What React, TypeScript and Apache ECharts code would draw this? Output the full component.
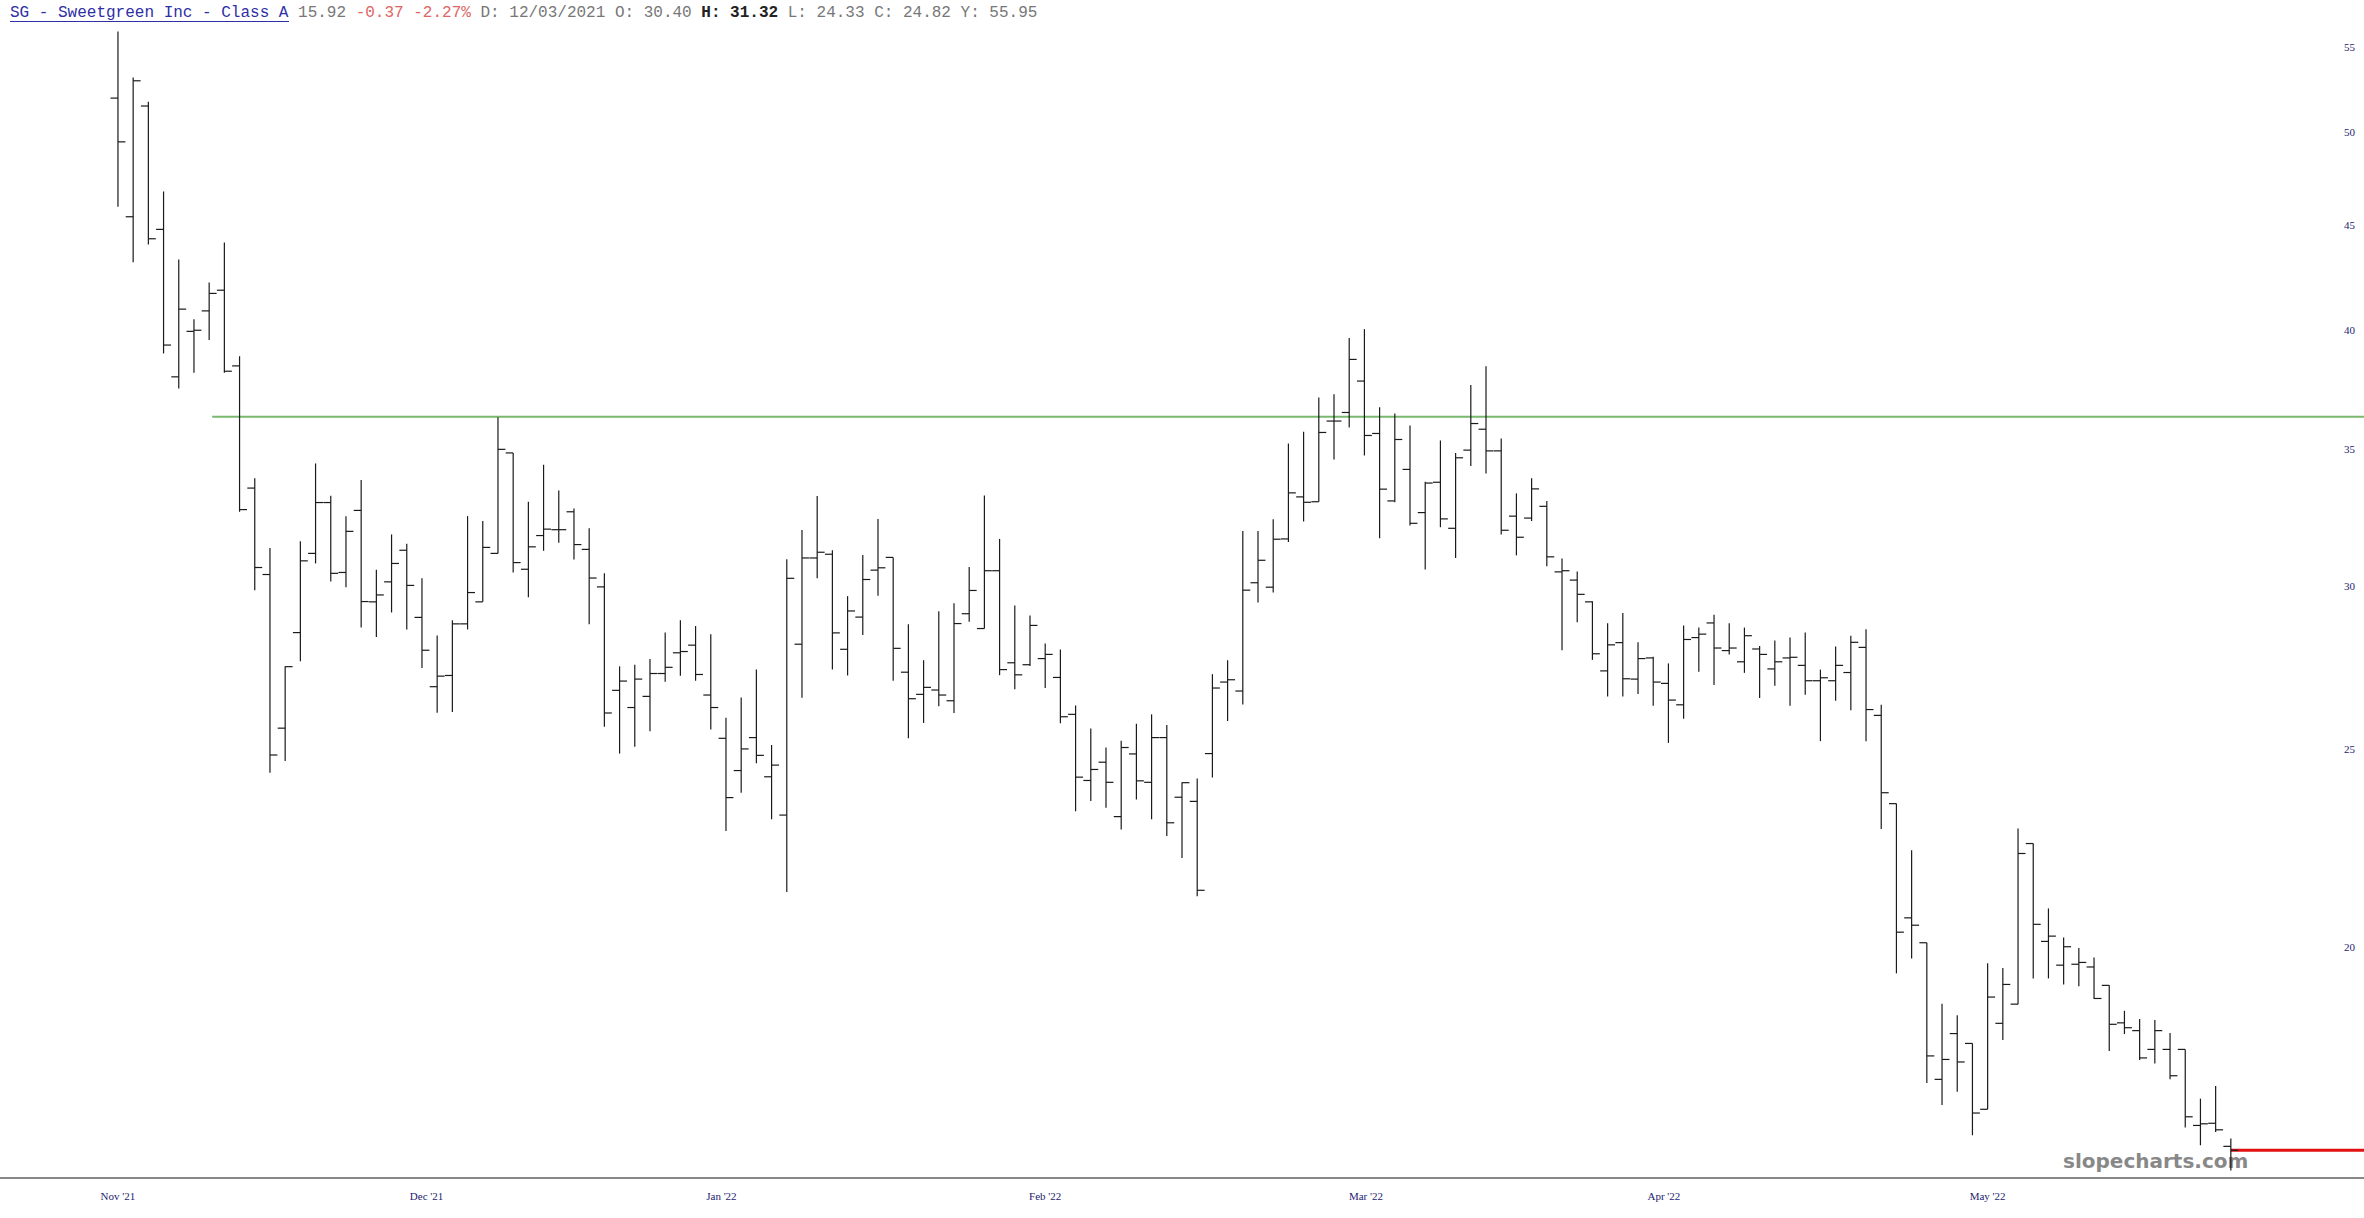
import React, { useEffect, useRef } from "react";
import * as echarts from "echarts";

// ---- categories: trading days (Nov 18 2021 .. Jun 9 2022) ----
const tradingMonths: [string, number[]][] = [
  ["2021-11", [18, 19, 22, 23, 24, 26, 29, 30]],
  ["2021-12", [1, 2, 3, 6, 7, 8, 9, 10, 13, 14, 15, 16, 17, 20, 21, 22, 23, 27, 28, 29, 30, 31]],
  ["2022-01", [3, 4, 5, 6, 7, 10, 11, 12, 13, 14, 18, 19, 20, 21, 24, 25, 26, 27, 28, 31]],
  ["2022-02", [1, 2, 3, 4, 7, 8, 9, 10, 11, 14, 15, 16, 17, 18, 22, 23, 24, 25, 28]],
  ["2022-03", [1, 2, 3, 4, 7, 8, 9, 10, 11, 14, 15, 16, 17, 18, 21, 22, 23, 24, 25, 28, 29, 30, 31]],
  ["2022-04", [1, 4, 5, 6, 7, 8, 11, 12, 13, 14, 18, 19, 20, 21, 22, 25, 26, 27, 28, 29]],
  ["2022-05", [2, 3, 4, 5, 6, 9, 10, 11, 12, 13, 16, 17, 18, 19, 20, 23, 24, 25, 26, 27, 31]],
  ["2022-06", [1, 2, 3, 6, 7, 8, 9]],
];
const dates: string[] = tradingMonths.flatMap(([m, days]) =>
  days.map((d) => `${m}-${String(d).padStart(2, "0")}`)
);

// ---- series values ----
const open = [
  51.92, 45.44, 51.46, 44.8, 37.96, 39.95, 40.88, 41.84, 38.43, 33.5,
  30.4, 25.58, 28.48, 31.13, 32.96, 30.47, 32.67, 29.48, 30.15, 31.24,
  28.97, 26.8, 27.14, 28.76, 29.48, 31.13, 34.85, 30.58, 31.76, 31.97,
  32.62, 31.27, 29.98, 26.69, 26.18, 26.51, 27.2, 27.84, 28.08, 26.55,
  25.29, 24.39, 25.31, 24.22, 23.2, 28.11, 30.97, 31.1, 27.95, 28.98,
  30.55, 30.99, 27.24, 26.57, 26.7, 26.38, 29.09, 28.61, 30.53, 27.53,
  27.47, 27.66, 27.08, 25.98, 24.12, 24.62, 23.16, 24.85, 24.07, 25.31,
  23.67, 23.56, 24.86, 26.94, 26.67, 30.12, 29.97, 31.64, 33.17, 32.99,
  36.12, 36.47, 37.78, 35.62, 33.02, 34.21, 32.59, 33.72, 32.02, 34.96,
  35.79, 34.93, 32.46, 32.39, 32.82, 30.49, 30.21, 29.48, 27.28, 28.16,
  27.03, 27.68, 26.9, 26.26, 28.32, 28.79, 27.91, 27.56, 27.96, 27.34,
  27.68, 27.45, 26.98, 26.98, 27.23, 28.01, 25.95, 23.5, 20.67, 20.1,
  17.24, 18.15, 17.95, 16.67, 18.36, 18.76, 22.47, 20.13, 19.6, 19.62,
  19.56, 19.16, 18.37, 18.21, 17.83, 17.83, 17.83, 16.37, 16.41, 15.99,
];
const high = [
  55.95, 53.14, 51.71, 46.75, 43.31, 40.5, 42.21, 44.15, 38.85, 33.87,
  31.32, 27.42, 31.56, 34.44, 33.21, 32.46, 33.81, 30.56, 31.8, 31.47,
  30.27, 28.39, 28.88, 32.46, 32.28, 36.28, 34.85, 32.99, 34.39, 33.41,
  32.74, 32.02, 30.44, 27.42, 27.47, 27.65, 28.48, 28.88, 28.69, 28.43,
  25.88, 26.48, 27.32, 25.1, 30.93, 31.96, 33.2, 31.24, 29.67, 31.07,
  32.36, 30.99, 28.75, 27.61, 29.17, 29.43, 30.66, 33.22, 31.64, 29.36,
  29.03, 28.13, 27.94, 26.24, 25.57, 25.03, 25.22, 25.71, 25.98, 25.67,
  24.07, 24.17, 27.18, 27.61, 31.92, 31.92, 32.35, 35.22, 35.69, 37.09,
  37.22, 39.65, 40.05, 36.68, 36.43, 35.94, 33.74, 35.34, 34.85, 37.61,
  38.41, 35.42, 33.3, 33.87, 33.02, 30.95, 30.5, 29.5, 28.78, 29.11,
  28.17, 27.72, 27.51, 28.71, 28.64, 29.06, 28.78, 28.64, 28.05, 28.23,
  28.32, 28.48, 27.32, 28.04, 28.38, 28.59, 26.26, 23.5, 22.3, 20.1,
  18.77, 18.53, 17.95, 19.64, 19.54, 22.85, 22.47, 20.89, 20.22, 19.98,
  19.77, 19.16, 18.62, 18.45, 18.43, 18.16, 17.83, 16.87, 17.11, 16.13,
];
const low = [
  45.95, 43.17, 44.05, 38.97, 37.47, 38.13, 39.56, 38.13, 32.62, 29.87,
  24.33, 24.65, 27.58, 30.78, 30.16, 29.97, 28.64, 28.34, 29.13, 28.58,
  27.37, 26.03, 26.05, 28.58, 29.48, 31.13, 30.47, 29.63, 31.22, 31.5,
  30.92, 28.75, 25.62, 24.86, 25.05, 25.49, 26.95, 27.13, 26.98, 25.54,
  22.79, 23.79, 24.59, 23.09, 21.28, 26.47, 30.27, 27.32, 27.14, 28.4,
  29.68, 26.98, 25.29, 25.73, 26.22, 26.02, 28.83, 28.61, 27.15, 26.72,
  27.43, 26.76, 25.72, 23.3, 23.57, 23.39, 22.83, 23.61, 23.09, 22.66,
  22.11, 21.18, 24.2, 25.79, 26.27, 29.46, 29.79, 31.53, 32.27, 32.99,
  34.59, 35.86, 34.75, 31.66, 32.97, 32.12, 30.57, 32.06, 30.97, 34.34,
  34.05, 31.8, 31.06, 32.28, 30.68, 27.92, 28.81, 27.62, 26.51, 26.51,
  26.58, 26.23, 25.16, 25.85, 27.25, 26.85, 27.79, 27.22, 26.46, 26.83,
  26.23, 26.56, 25.21, 26.38, 26.1, 25.21, 22.84, 19.42, 19.75, 17.17,
  16.75, 17.0, 16.19, 16.67, 18.02, 18.76, 19.31, 19.31, 19.18, 19.14,
  18.87, 17.8, 18.14, 17.62, 17.55, 17.24, 16.33, 16.01, 16.25, 15.56,
];
const close = [
  49.43, 52.94, 44.33, 39.34, 40.96, 40.0, 41.69, 38.2, 32.7, 30.64,
  24.82, 27.41, 30.87, 32.96, 30.44, 31.91, 29.49, 29.71, 30.78, 30.03,
  27.92, 27.12, 28.76, 29.79, 31.34, 34.99, 30.81, 31.36, 31.99, 31.97,
  31.44, 30.28, 26.02, 26.97, 27.03, 27.2, 27.39, 27.88, 27.17, 26.18,
  23.66, 24.99, 24.81, 24.54, 30.27, 30.97, 31.17, 28.47, 29.18, 30.23,
  30.63, 27.98, 26.44, 26.78, 26.55, 28.77, 29.86, 30.53, 27.32, 27.16,
  28.71, 27.79, 25.91, 24.21, 24.42, 24.07, 25.03, 24.11, 25.31, 23.0,
  24.06, 21.32, 26.76, 27.01, 29.87, 30.89, 31.63, 33.32, 32.97, 35.66,
  36.12, 38.71, 35.54, 33.46, 35.38, 32.2, 33.69, 32.36, 34.66, 36.02,
  34.93, 31.95, 31.7, 33.47, 31.01, 30.53, 29.73, 27.81, 28.09, 27.04,
  27.66, 26.94, 26.4, 28.26, 28.43, 27.99, 27.99, 28.38, 27.79, 27.56,
  27.7, 26.98, 27.07, 27.45, 28.17, 26.12, 23.79, 20.34, 20.5, 17.7,
  17.63, 17.58, 16.6, 18.91, 19.18, 22.22, 20.52, 20.25, 20.01, 19.66,
  18.88, 18.34, 18.27, 17.66, 18.21, 17.31, 16.53, 16.4, 16.29, 15.92,
];

// ---- tick labels ----
const xTickLabels = ["Nov '21", "Dec '21", "Jan '22", "Feb '22", "Mar '22", "Apr '22", "May '22"];
const xTickPositions = [0, 20.3, 39.7, 61, 82.1, 101.7, 123];
const yTickLabels = [20, 25, 30, 35, 40, 45, 50, 55];

// ---- reference levels ----
const resistanceLevel = 36.3;
const resistanceStartIndex = 6.2;
const lastPrice = 15.92;

// ---- header ----
const headerName = "SG - Sweetgreen Inc - Class A";
const headerLast = "15.92";
const headerChange = "-0.37 -2.27%";
const headerInfo1 = "D: 12/03/2021 O: 30.40";
const headerHigh = "H: 31.32";
const headerInfo2 = "L: 24.33 C: 24.82 Y: 55.95";

// ---- view extents (layout) ----
const X_MIN = -7.76;
const X_MAX = 147.76;
const Y_MIN = 15.44;
const Y_MAX = 57.97;

export default function App() {
  const ref = useRef<HTMLDivElement>(null);

  useEffect(() => {
    document.body.style.margin = "0";
    if (!ref.current) return;
    const chart = echarts.init(ref.current, undefined, { renderer: "svg" });

    const ohlcRows = dates.map((_, i) => [
      i,
      Math.log(open[i]),
      Math.log(high[i]),
      Math.log(low[i]),
      Math.log(close[i]),
    ]);
    const lastIndex = dates.length - 1;

    const option: any = {
      animation: false,
      backgroundColor: "#ffffff",
      title: {
        left: 10,
        top: 4,
        padding: 0,
        text:
          `{name|${headerName}} {last|${headerLast}} {chg|${headerChange}} ` +
          `{info|${headerInfo1}} {hi|${headerHigh}} {info|${headerInfo2}}`,
        textStyle: {
          fontFamily: "Liberation Mono",
          fontSize: 16,
          fontWeight: "normal",
          color: "#777777",
          rich: {
            name: { fontFamily: "Liberation Mono", fontSize: 16, color: "#2f2fa6", lineHeight: 18 },
            last: { fontFamily: "Liberation Mono", fontSize: 16, color: "#777777", lineHeight: 18 },
            chg: { fontFamily: "Liberation Mono", fontSize: 16, color: "#e06666", lineHeight: 18 },
            info: { fontFamily: "Liberation Mono", fontSize: 16, color: "#777777", lineHeight: 18 },
            hi: { fontFamily: "Liberation Mono", fontSize: 16, color: "#222222", fontWeight: "bold", lineHeight: 18 },
          },
        },
      },
      grid: { left: 0, right: 0, top: 0, bottom: 40.5 },
      xAxis: {
        type: "value",
        min: X_MIN,
        max: X_MAX,
        axisLine: { show: true, lineStyle: { color: "#888888", width: 2 } },
        axisTick: { show: false },
        splitLine: { show: false },
        axisLabel: {
          customValues: xTickPositions,
          formatter: (v: number) => {
            const k = xTickPositions.findIndex((p) => Math.abs(p - v) < 1e-6);
            return k >= 0 ? xTickLabels[k] : "";
          },
          margin: 13,
          color: "#1c1c6e",
          fontFamily: "Liberation Serif",
          fontSize: 11,
        },
      },
      yAxis: {
        type: "value",
        position: "right",
        min: Math.log(Y_MIN),
        max: Math.log(Y_MAX),
        axisLine: { show: false },
        axisTick: { show: false },
        splitLine: { show: false },
        axisLabel: {
          inside: true,
          margin: 9,
          customValues: yTickLabels.map((v) => Math.log(v)),
          formatter: (v: number) => String(Math.round(Math.exp(v))),
          color: "#1c1c6e",
          fontFamily: "Liberation Serif",
          fontSize: 11,
        },
      },
      series: [
        {
          type: "custom",
          name: "SG",
          data: ohlcRows,
          encode: { x: 0, y: [1, 2, 3, 4] },
          z: 5,
          renderItem: (_params: any, api: any) => {
            const i = api.value(0);
            const pO = api.coord([i, api.value(1)]);
            const pH = api.coord([i, api.value(2)]);
            const pL = api.coord([i, api.value(3)]);
            const pC = api.coord([i, api.value(4)]);
            const half = api.size([1, 0])[0] * 0.49;
            const style = { stroke: "#1a1a1a", lineWidth: 1.2 };
            return {
              type: "group",
              children: [
                { type: "line", shape: { x1: pH[0], y1: pH[1], x2: pL[0], y2: pL[1] }, style },
                { type: "line", shape: { x1: pO[0] - half, y1: pO[1], x2: pO[0], y2: pO[1] }, style },
                { type: "line", shape: { x1: pC[0], y1: pC[1], x2: pC[0] + half, y2: pC[1] }, style },
              ],
            };
          },
        },
        {
          type: "line",
          name: "resistance",
          data: [
            [resistanceStartIndex, Math.log(resistanceLevel)],
            [X_MAX, Math.log(resistanceLevel)],
          ],
          symbol: "none",
          silent: true,
          z: 3,
          lineStyle: { color: "#78b96e", width: 2 },
        },
        {
          type: "line",
          name: "last",
          data: [
            [lastIndex, Math.log(lastPrice)],
            [X_MAX, Math.log(lastPrice)],
          ],
          symbol: "none",
          silent: true,
          z: 4,
          lineStyle: { color: "#e01010", width: 3 },
        },
      ],
      graphic: [
        {
          type: "line",
          shape: { x1: 10, y1: 21.5, x2: 289, y2: 21.5 },
          style: { stroke: "#2f2fa6", lineWidth: 1 },
        },
        {
          type: "text",
          x: 2063,
          y: 1161,
          z: 1,
          style: {
            text: "slopecharts.com",
            fill: "#888888",
            font: 'bold 20px "DejaVu Sans"',
            align: "left",
            verticalAlign: "middle",
          },
        },
      ],
    };

    chart.setOption(option);
    return () => chart.dispose();
  }, []);

  return (
    <div
      ref={ref}
      style={{ position: "absolute", left: 0, top: 0, width: 2364, height: 1218 }}
    />
  );
}
